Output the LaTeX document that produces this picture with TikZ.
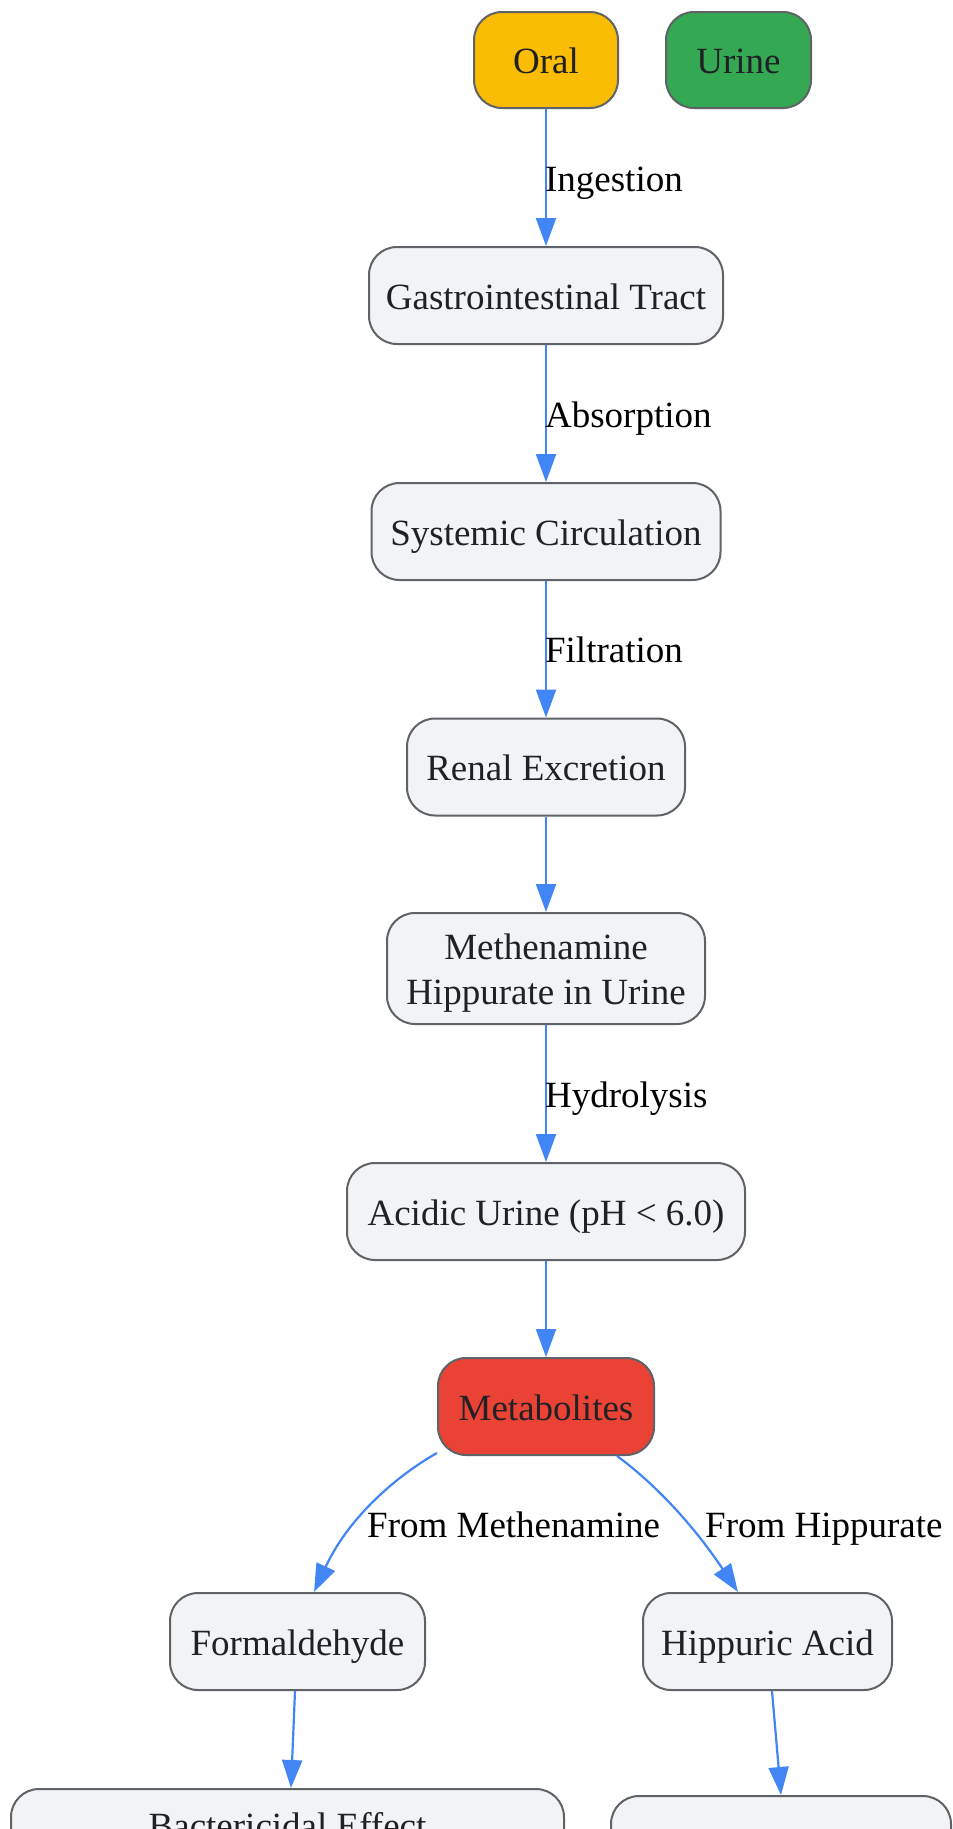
\documentclass[tikz,border=0pt]{standalone}
\usepackage{fontspec}
\setmainfont{Liberation Serif}
\usetikzlibrary{arrows.meta}
\definecolor{nodefill}{HTML}{F1F3F4}
\definecolor{nodeline}{HTML}{5F6368}
\definecolor{nodetext}{HTML}{202124}
\definecolor{edgecol}{HTML}{4285F4}
\definecolor{oralc}{HTML}{FBBC04}
\definecolor{urinec}{HTML}{34A853}
\definecolor{metc}{HTML}{EA4335}
\begin{document}
\begin{tikzpicture}[x=1pt,y=-1pt,
  box/.style={draw=nodeline, fill=nodefill, line width=2pt, rounded corners=28pt,
    text=nodetext, font=\fontsize{37}{45.5}\selectfont, align=center, inner sep=0pt,
    minimum height=97pt, text height=34pt, text depth=7pt},
  edge/.style={draw=edgecol, line width=2.2pt, -{Triangle[length=28pt,width=20pt]}},
  lbl/.style={font=\fontsize{37}{43}\selectfont, text=black, anchor=west, inner sep=0pt,
    text height=34pt, text depth=7pt}]
\useasboundingbox (0,0) rectangle (953,1829);
\clip (0,0) rectangle (953,1829);

\node[box, fill=oralc, minimum width=144pt, minimum height=96pt] (oral) at (546,60) {Oral};
\node[box, fill=urinec, minimum width=145pt, minimum height=96pt] (urine) at (738.5,60) {Urine};
\node[box, minimum width=354pt] (gi) at (546,295.5) {Gastrointestinal Tract};
\node[box, minimum width=349pt] (sys) at (546,531.5) {Systemic Circulation};
\node[box, minimum width=278pt] (ren) at (546,767) {Renal Excretion};
\node[box, minimum width=318pt, minimum height=111pt, text height=79.5pt] (mh) at (546,968.5) {Methenamine\\Hippurate in Urine};
\node[box, minimum width=398pt] (acid) at (546,1211.5) {Acidic Urine (pH {\textless} 6.0)};
\node[box, fill=metc, minimum width=216pt] (met) at (546,1406.5) {Metabolites};
\node[box, minimum width=255pt] (form) at (297.5,1641.5) {Formaldehyde};
\node[box, minimum width=249pt] (hip) at (767.5,1641.5) {Hippuric Acid};
\node[box, anchor=north, minimum width=553pt, minimum height=0pt, inner ysep=24pt,
  text height=25pt, text depth=60pt] (bact) at (287.5,1788) {Bactericidal Effect};
\node[box, anchor=north, minimum width=340pt, minimum height=130pt] (rb) at (781,1795) {};

\draw[edge] (oral) -- node[lbl, xshift=-2pt] {Ingestion} (gi);
\draw[edge] (gi) -- node[lbl, xshift=-2pt] {Absorption} (sys);
\draw[edge] (sys) -- node[lbl, xshift=-2pt] {Filtration} (ren);
\draw[edge] (ren) -- (mh);
\draw[edge] (mh) -- node[lbl, xshift=-2pt] {Hydrolysis} (acid);
\draw[edge] (acid) -- (met);
\draw[edge] ([yshift=3pt]met.south west) .. controls (408,1469) and (352,1510) .. ([xshift=16.5pt]form.north);
\draw[edge] ([xshift=71pt]met.south) .. controls (650,1480) and (690,1520) .. ([xshift=-29.5pt]hip.north);
\draw[edge] ([xshift=-2.5pt]form.south) -- ([xshift=3.5pt]bact.north);
\draw[edge] ([xshift=4.5pt]hip.south) -- (rb.north);

\node[lbl] (lm) at (367,1524) {From Methenamine};
\node[lbl] (lh) at (705,1524) {From Hippurate};
\end{tikzpicture}
\end{document}
